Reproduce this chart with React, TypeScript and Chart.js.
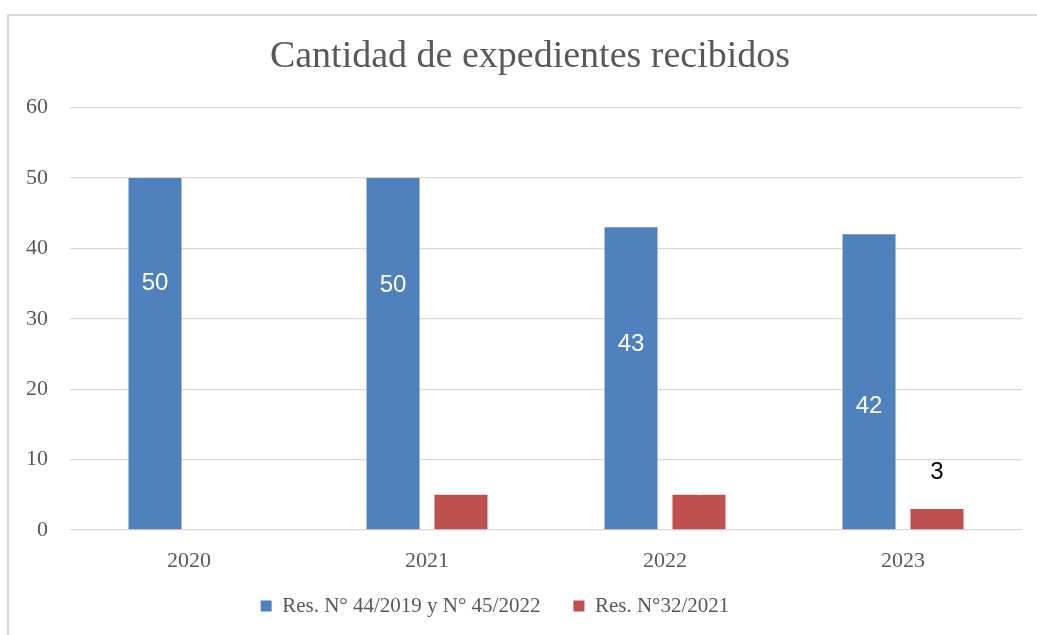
import React, { useEffect, useRef } from "react";
import { Chart, registerables } from "chart.js";

Chart.register(...registerables);

const categories = ["2020", "2021", "2022", "2023"];
const seriesNames = ["Res. N° 44/2019 y N° 45/2022", "Res. N°32/2021"];
const seriesA = [50, 50, 43, 42];
const seriesB = [0, 5, 5, 3];
// where (in axis units) each value label sits, as placed in the original
const labelAtA = [35.1, 34.7, 26.3, 17.5];
const labelAtB: (number | null)[] = [null, 7, 5.85, 8.2];
const labelColorA = ["#ffffff", "#ffffff", "#ffffff", "#ffffff"];
const labelColorB = ["#ffffff", "#ffffff", "#ffffff", "#000000"];
const yMax = 60;
const yStep = 10;
const titleText = "Cantidad de expedientes recibidos";

const BLUE = "#4f81bd";
const RED = "#c0504d";
const TEXT = "#595959";
const GRID = "#d9d9d9";
const SERIF = "'Liberation Serif', 'DejaVu Serif', serif";
const SANS = "'Liberation Sans', 'DejaVu Sans', sans-serif";
const LEGEND_DX = -21;
const LEGEND_DY = -8.5;
const TITLE_DX = 14;

const valueLabels = {
  id: "valueLabels",
  afterDatasetsDraw(chart: any) {
    const ctx = chart.ctx;
    const y = chart.scales.y;
    const sets = [
      { vals: seriesA, at: labelAtA, col: labelColorA },
      { vals: seriesB, at: labelAtB, col: labelColorB },
    ];
    ctx.save();
    ctx.font = `24px ${SANS}`;
    ctx.textAlign = "center";
    ctx.textBaseline = "middle";
    sets.forEach((s, di) => {
      const meta = chart.getDatasetMeta(di);
      meta.data.forEach((el: any, i: number) => {
        const pos = s.at[i];
        if (pos === null || pos === undefined) return;
        ctx.fillStyle = s.col[i];
        ctx.fillText(String(s.vals[i]), el.x, y.getPixelForValue(pos));
      });
    });
    ctx.restore();
  },
};

const boxShift = {
  id: "boxShift",
  afterLayout(chart: any) {
    const lg = chart.legend;
    if (lg) {
      lg.left += LEGEND_DX;
      lg.right += LEGEND_DX;
      lg.top += LEGEND_DY;
      lg.bottom += LEGEND_DY;
    }
    const tb = chart.titleBlock;
    if (tb) {
      tb.left += TITLE_DX;
      tb.right += TITLE_DX;
    }
  },
};

export default function App() {
  const ref = useRef<HTMLCanvasElement | null>(null);
  useEffect(() => {
    document.body.style.overflow = "hidden";
    if (!ref.current) return;
    const chart = new Chart(ref.current, {
      type: "bar",
      data: {
        labels: categories,
        datasets: [
          {
            label: seriesNames[0],
            data: seriesA,
            backgroundColor: BLUE,
            categoryPercentage: 0.571,
            barPercentage: 0.78,
          },
          {
            label: seriesNames[1],
            data: seriesB,
            backgroundColor: RED,
            categoryPercentage: 0.571,
            barPercentage: 0.78,
          },
        ],
      },
      options: {
        animation: false,
        responsive: true,
        maintainAspectRatio: false,
        layout: { padding: { top: 14, left: 10, right: 15, bottom: 0 } },
        plugins: {
          title: {
            display: true,
            text: titleText,
            color: TEXT,
            font: { family: SERIF, size: 38, weight: "normal" },
            padding: { top: 20, bottom: 28 },
          },
          legend: {
            position: "bottom",
            labels: {
              color: TEXT,
              font: { family: SERIF, size: 21 },
              boxWidth: 11,
              boxHeight: 11,
              padding: 33,
            },
          },
          tooltip: { enabled: false },
        },
        scales: {
          x: {
            grid: { display: false },
            border: { display: false },
            ticks: {
              color: TEXT,
              font: { family: SERIF, size: 22 },
              padding: 10,
            },
            afterFit(scale: any) {
              scale.height = 41;
            },
          },
          y: {
            min: 0,
            max: yMax,
            ticks: {
              stepSize: yStep,
              color: TEXT,
              font: { family: SERIF, size: 22 },
              padding: 22,
            },
            grid: { color: GRID, lineWidth: 1.3, drawTicks: false },
            border: { display: false },
            afterFit(scale: any) {
              scale.width = 60;
            },
          },
        },
      },
      plugins: [valueLabels, boxShift],
    });
    return () => chart.destroy();
  }, []);

  return (
    <>
      <div
        style={{
          position: "fixed",
          left: 7,
          top: 14,
          width: 1030,
          height: 621,
          borderLeft: `2px solid ${GRID}`,
          borderTop: `2px solid ${GRID}`,
          boxSizing: "border-box",
        }}
      />
      <div style={{ position: "fixed", left: 0, top: 0, width: 1037, height: 635 }}>
        <canvas ref={ref} />
      </div>
    </>
  );
}
